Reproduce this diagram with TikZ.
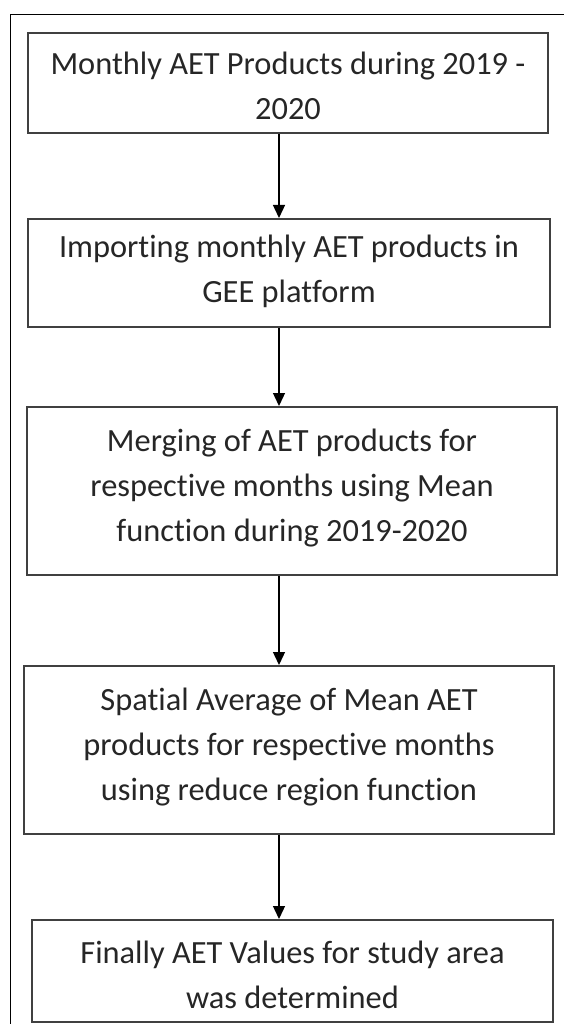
\documentclass[tikz,border=0pt]{standalone}
\usepackage{fontspec}
\setmainfont{Carlito}[Ligatures={NoCommon,NoRare}]
\usetikzlibrary{arrows.meta}
\newcommand\lstrut{\rule[-15pt]{0pt}{45pt}}
\definecolor{boxgray}{HTML}{404040}
\definecolor{txtgray}{HTML}{262626}
\tikzset{
  flowbox/.style={draw=boxgray, line width=2pt, inner sep=0pt, fill=none},
  flowtext/.style={anchor=north, inner sep=0pt, align=center, text=txtgray,
    font=\fontsize{32.4pt}{45pt}\selectfont},
  flowarrow/.style={draw=black, line width=1.3pt, -{Triangle[length=13pt,width=12pt]}},
  frameline/.style={draw=black, line width=1.2pt}
}
\begin{document}
\begin{tikzpicture}[x=1pt,y=-1pt]
\useasboundingbox (0,0) rectangle (564,1024);
\draw[frameline] (564,14.7) -- (10.7,14.7) -- (10.7,1024);
\coordinate (ax) at (279,0);
% boxes
\node[flowbox, minimum width=520pt, minimum height=100pt] (b1) at (288,83) {};
\node[flowbox, minimum width=522pt, minimum height=108pt] (b2) at (289,273) {};
\node[flowbox, minimum width=530pt, minimum height=168pt] (b3) at (292,491) {};
\node[flowbox, minimum width=530pt, minimum height=168pt] (b4) at (289,750) {};
\node[flowbox, minimum width=521pt, minimum height=102pt] (b5) at (292.5,971) {};
% texts
\node[flowtext] (t1) at (288,44) {\lstrut Monthly AET Products during 2019 -\\\lstrut 2020};
\node[flowtext] (t2) at (289,227) {\lstrut Importing monthly AET products in\\\lstrut GEE platform};
\node[flowtext] (t3) at (292,421) {\lstrut Merging of AET products for\\\lstrut respective months using Mean\\\lstrut function during 2019-2020};
\node[flowtext] (t4) at (289,680) {\lstrut Spatial Average of Mean AET\\\lstrut products for respective months\\\lstrut using reduce region function};
\node[flowtext] (t5) at (292.5,933) {\lstrut Finally AET Values for study area\\\lstrut was determined};
% arrows
\draw[flowarrow] (b1.south -| ax) -- (b2.north -| ax);
\draw[flowarrow] (b2.south -| ax) -- (b3.north -| ax);
\draw[flowarrow] (b3.south -| ax) -- (b4.north -| ax);
\draw[flowarrow] (b4.south -| ax) -- (b5.north -| ax);
\end{tikzpicture}
\end{document}
